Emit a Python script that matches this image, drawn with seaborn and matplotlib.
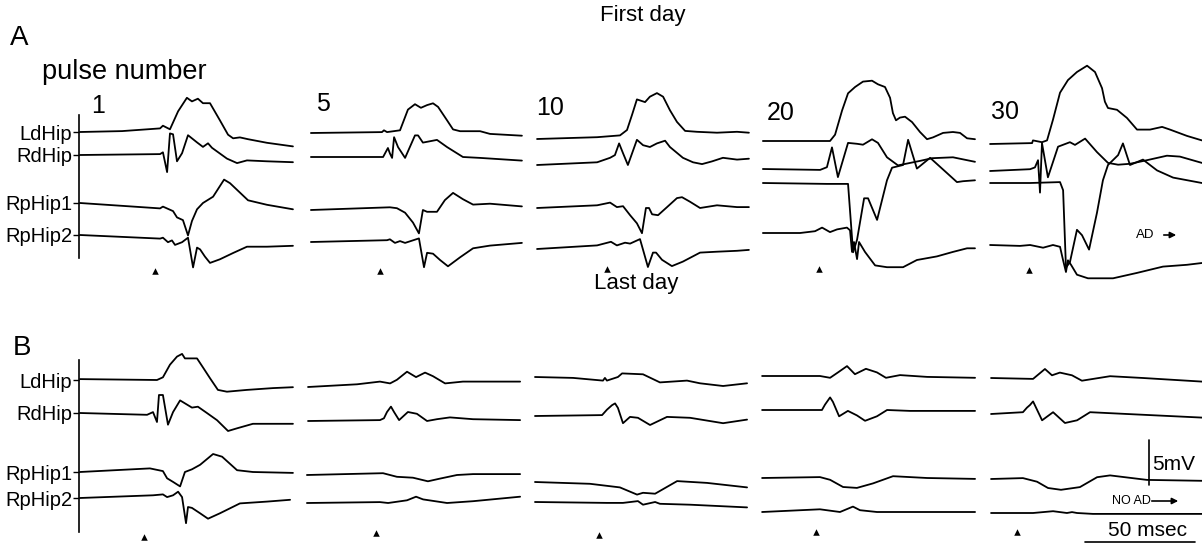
import pandas as pd
import seaborn as sns
import matplotlib
matplotlib.use('Agg')
from matplotlib import pyplot as plt

CHANNELS = ['LdHip', 'RdHip', 'RpHip1', 'RpHip2']
PULSES = ['1', '5', '10', '20', '30']

# each trace: (ms after the stimulus, mV above the channel baseline), one trace per pulse
A_LdHip = [
    [(-34.1, 0), (-15, 0.1), (2.3, 0.4), (3.6, 0.7), (6.8, 0.3), (10.5, 2.3), (14.5, 3.8), (16.8, 3.4), (19.5, 3.7),
     (21.8, 3.2), (25, 3.2), (29.5, 1.3), (33.2, -0.3), (35.5, -0.7), (38.6, -0.6), (42.3, -0.8), (50.9, -1.2),
     (62.7, -1.6)],
    [(-31.4, 0), (0.9, 0.1), (1.8, 0.3), (3.2, 0.1), (9.1, 0.3), (12.7, 2.6), (15.9, 3.2), (18.6, 2.8), (21.4, 3.1),
     (24.1, 3.3), (26.4, 2.9), (30.5, 1.4), (33.2, 0.4), (36.4, 0.2), (45.5, 0.2), (50, -0.1), (64.5, -0.3)],
    [(-31.8, 0), (-4.5, 0.2), (5.9, 0.4), (9.1, 1), (11.4, 2.7), (13.6, 4.4), (17.3, 4.1), (19.5, 4.7), (22.7, 5.1),
     (25.5, 4.7), (28.6, 3.2), (31.8, 1.9), (35.5, 0.9), (40.9, 0.8), (50, 0.7), (59.1, 0.8), (64.5, 0.7)],
    [(-25.5, 0), (5, 0), (7.3, 0.7), (10.5, 3.4), (13.2, 5.3), (16.4, 6), (20, 6.6), (24.1, 6.7), (26.8, 6.3),
     (30, 6), (32.3, 4.8), (33.6, 3.1), (35, 2.3), (36.8, 2.6), (39.1, 2.7), (42.3, 2.1), (45.9, 1), (49.1, 0.2),
     (51.8, 0.4), (56.4, 0.9), (60.9, 1), (64.1, 0.9), (67.3, 0.3), (70.9, 0.2)],
    [(-17.7, 0), (1.4, 0.1), (1.8, 0.4), (5.9, 0.2), (8.2, 0.4), (10.9, 2.7), (14.1, 5.7), (17.7, 7.1), (21.8, 8),
     (26.4, 8.7), (30, 8), (33.2, 6.2), (34.5, 4.7), (35.9, 4), (40, 3.8), (44.5, 2.9), (49.1, 1.6), (55, 1.6),
     (60.5, 1.9), (64.1, 1.6), (71.8, 0.9), (78.6, 0.4)],
]
A_RdHip = [
    [(-34.1, 0), (2.3, 0.1), (3.6, 0.3), (5.5, -1.9), (6.8, 2.4), (8.2, 2.3), (10, -0.7), (12.3, 0.2), (15, 2.2),
     (19.1, 1.4), (21.8, 0.9), (24.1, 1.3), (25.9, 0.8), (32.7, -0.4), (37.3, -0.9), (41.8, -0.6), (50.9, -0.7),
     (62.7, -0.8)],
    [(-31.4, 0), (1.4, 0), (3.6, 1), (4.5, 0.4), (5.5, -0.1), (6.4, 2.2), (8.2, 1.1), (11.4, -0.1), (15.9, 2.4),
     (17.3, 2.4), (19.5, 1.6), (25.9, 1.9), (30.5, 1.1), (37.7, 0), (45.5, -0.1), (64.5, -0.4)],
    [(-31.8, 0), (-4.5, 0.3), (1.4, 0.8), (3.6, 1.1), (5.5, 2.4), (7.3, 1.3), (9.5, 0), (13.6, 2.8), (16.4, 2.2),
     (19.5, 2), (22.7, 2.4), (26.4, 2.7), (28.6, 2), (34.5, 0.8), (39.1, 0.3), (43.2, 0.1), (47.7, 0.4), (52.7, 0.8),
     (59.1, 0.6), (64.5, 0.7)],
    [(-25.5, 0), (0.5, -0.1), (3.6, 0.2), (5.9, 2.4), (8.6, -0.9), (13.2, 2.9), (17.3, 2.8), (20, 2.7), (24.1, 3.3),
     (26.8, 2.9), (30.9, 1.3), (35.9, 0.4), (45.9, 0.9), (51.4, 1.2), (60.9, 1.3), (70.9, 0.8)],
    [(-17.7, 0), (0.5, 0.2), (2.7, 0.4), (4.1, 1.2), (5, -2.4), (5.9, 3.1), (8.6, -0.7), (13.2, 2.7), (18.6, 3.2),
     (20.9, 2.9), (25.5, 3.6), (30.9, 2.1), (35.9, 0.9), (40.5, 0.7), (45.9, 0.8), (53.6, 1.2), (62.7, 1.7),
     (68.6, 1.6), (78.6, 0.9)],
]
A_RpHip1 = [
    [(-34.1, 0), (2.3, -0.6), (3.6, -0.4), (8.2, -0.9), (10, -1.6), (12.7, -1.9), (15, -3.6), (16.8, -2),
     (19.1, -0.7), (21.8, 0), (26.4, 0.7), (31.4, 2.6), (34.1, 2.2), (42.3, 0.3), (50.9, -0.2), (62.7, -0.7)],
    [(-31.4, 0), (4.5, 0.3), (7.7, 0.2), (11.4, -0.3), (15, -1.4), (17.7, -2.6), (19.5, 0), (21.4, -0.2),
     (25.9, -0.2), (29.5, 1.1), (33.2, 1.9), (37.7, 1.2), (42.3, 0.6), (50, 0.7), (64.5, 0.4)],
    [(-31.8, 0), (-4.5, 0.3), (1.4, 0.6), (4.5, 0.1), (7.3, 0.2), (10.5, -0.8), (13.6, -1.7), (15.9, -2.8),
     (17.7, 0), (19.1, 0), (20.5, -0.7), (23.2, -0.8), (27.3, 0.1), (31.8, 1.1), (34.1, 1.2), (37.7, 0.7),
     (42.3, 0), (50, 0.3), (59.1, 0.1), (64.5, 0.1)],
    [(-25.5, 0), (3.6, -0.1), (13.2, -0.1), (15.5, -7.7), (17.3, -6.3), (20.5, -1.7), (22.3, -1.7), (26.4, -4.1),
     (30.9, 0.3), (33.2, 1.7), (38.2, 2), (40.5, 4.8), (44.5, 1.6), (50.5, 2.8), (58.2, 1.1), (62.7, 0.1),
     (65.5, 0.2), (70.9, 0.3)],
    [(-17.7, 0), (0.5, 0), (14.1, 0.1), (15.5, -0.8), (16.8, -9.4), (18.6, -8.8), (21.8, -5.2), (24.1, -5.8),
     (27.3, -7.4), (30.9, -3.3), (33.6, 0.3), (35.9, 2), (40.5, 3.1), (42.7, 4.4), (45.9, 2), (51.8, 2.6),
     (58.2, 1.4), (65.5, 0.6), (78.6, 0)],
]
A_RpHip2 = [
    [(-34.1, 0), (2.3, -0.4), (3.6, -0.3), (5.9, -0.8), (7.7, -0.6), (9.1, -1.1), (12.3, -0.8), (15, -0.3),
     (17.3, -3.6), (19.1, -1.4), (20.5, -1.6), (22.7, -2.4), (25, -3.1), (29.5, -2.7), (35.5, -2), (41.8, -1.3),
     (50.9, -1.3), (62.7, -1.2)],
    [(-31.4, 0), (3.2, 0.2), (4.5, 0.3), (6.8, -0.1), (9.1, 0.1), (11.4, -0.1), (17.7, 0.4), (20, -2.8),
     (21.4, -1.2), (24.1, -1.3), (27.3, -2), (30.9, -2.7), (36.4, -1.7), (42.3, -0.7), (50, -0.4), (64.5, -0.1)],
    [(-31.8, 0), (-4.5, 0.4), (1.8, 0.8), (4.5, 0.4), (8.2, 0.7), (10.5, 0.6), (15, 1.1), (16.4, -0.1),
     (18.6, -2), (20.9, -0.4), (22.3, -0.4), (25, -1.2), (29.5, -1.9), (34.5, -1.4), (42.3, -0.4), (50, -0.3),
     (59.1, -0.2), (64.5, -0.1)],
    [(-25.5, 0), (-8.6, 0), (-1.8, 0.2), (1.4, 0.6), (5, 0.1), (8.2, 0.4), (12.7, 0.6), (14.1, 0.3), (15, -2.1),
     (15.9, -1), (17.3, -2.9), (18.2, -1), (20.9, -2.1), (25.5, -3.6), (30.9, -3.8), (38.2, -3.8), (44.5, -3),
     (53.6, -2.6), (60.9, -2.1), (67.3, -1.7), (70.9, -1.7)],
    [(-17.7, 0), (-4.1, -0.1), (0.5, 0), (6.4, -0.3), (10.9, 0), (14.1, -0.2), (15.5, -1.7), (16.8, -3),
     (17.7, -1.7), (19.1, -2.2), (21.8, -3.3), (26.8, -3.7), (38.2, -3.7), (49.1, -3.1), (60.9, -2.4),
     (71.8, -2.2), (78.6, -2)],
]

B_LdHip = [
    [(-29.1, 0.1), (5.9, 0), (8.6, 0.3), (11.8, 1.7), (15, 2.6), (17.3, 2.9), (18.6, 2.4), (24.1, 2.4),
     (26.8, 1.4), (30, 0.2), (33.6, -1.1), (37.7, -1.3), (46.8, -1.1), (58.6, -0.9), (67.7, -0.8)],
    [(-30.9, 0), (-8.6, 0.3), (1.8, 0.6), (6.4, 0.4), (9.5, 0.8), (14.1, 1.7), (18.2, 1.1), (22.3, 1.6),
     (25.9, 1.2), (31.4, 0.4), (39.5, 0.6), (51.8, 0.6), (65.5, 0.6)],
    [(-29.1, 0), (-11.8, -0.1), (1.8, -0.4), (2.7, -0.1), (3.6, -0.4), (8.6, 0), (10.5, 0.4), (20, 0.3),
     (27.7, -0.6), (40, -0.4), (45.9, -0.7), (56.4, -1), (67.3, -0.7)],
    [(-24.5, 0), (1.8, 0), (6.4, -0.2), (10, 0.4), (14.1, 1.1), (17.7, 0.2), (22.7, 0.8), (27.7, 0.4),
     (31.8, -0.2), (38.2, 0.1), (50.5, -0.1), (72.3, -0.2)],
    [(-11.8, 0), (7.3, -0.1), (12.7, 1), (15.9, 0.3), (19.5, 0.6), (25, 0.3), (29.5, -0.3), (42.3, 0.2),
     (57.3, 0), (84.1, -0.4)],
]
B_RdHip = [
    [(-29.1, 0), (1.4, -0.2), (4.1, 0.1), (5.9, -1), (6.8, 2), (8.6, 2), (10.9, -1.3), (13.2, 0.1), (16.4, 1.4),
     (21.8, 0.6), (24.5, 0.7), (28.6, 0), (33.2, -0.8), (38.2, -2), (42.3, -1.7), (49.5, -1.2), (67.7, -1.2)],
    [(-30.9, 0), (1.8, 0.1), (3.6, 0.3), (5, 1), (6.8, 1.6), (8.2, 1), (10.5, 0.1), (14.5, 1), (18.6, 0.8),
     (23.2, 0), (27.7, 0.2), (33.6, 0.4), (44.1, 0.2), (65.5, 0.1)],
    [(-29.1, 0), (1.4, 0.1), (3.6, 0.7), (5.9, 1.2), (7.3, 1.4), (8.6, 0.9), (10.9, -0.8), (14.1, -0.1),
     (17.7, -0.2), (23.2, -1), (30.9, -0.1), (41.4, -0.2), (56.4, -0.8), (67.3, -0.4)],
    [(-24.5, 0), (2.7, 0), (4.1, 0.6), (6.4, 1.4), (7.7, 0.9), (10.5, -0.7), (14.5, -0.1), (18.6, -0.6),
     (22.3, -1.2), (27.7, -0.7), (32.3, 0), (42.7, -0.1), (72.3, -0.1)],
    [(-11.8, 0), (2.7, 0.2), (4.5, 0.7), (5.9, 1), (7.3, 1.4), (11.4, -0.7), (16.4, 0.2), (21.8, -1),
     (27.3, -0.7), (33.2, 0.2), (50, 0), (84.1, -0.4)],
]
B_RpHip1 = [
    [(-29.1, 0), (2.7, 0.4), (8.6, 0.1), (10.5, -0.7), (13.2, -1.1), (16.4, -1.6), (18.6, 0), (21.8, 0.3),
     (25.5, 0.8), (31.4, 2), (35.5, 1.7), (42.3, 0.2), (49.5, 0), (67.7, -0.1)],
    [(-31.4, 0), (3.2, 0.2), (9.5, -0.2), (16.8, -0.3), (23.6, -0.7), (29.1, -0.4), (36.8, 0), (44.1, 0.1),
     (65.5, 0.1)],
    [(-29.1, 0), (-4.1, -0.2), (9.5, -0.6), (17.3, -1.4), (20, -1.2), (25.5, -1.3), (35.5, 0.1), (49.1, -0.1),
     (67.3, -0.6)],
    [(-24.5, 0), (1.8, 0.1), (6.4, -0.2), (12.3, -1), (18.6, -1.1), (25.9, -0.6), (35, 0.2), (50.5, 0),
     (72.3, -0.1)],
    [(-11.8, 0), (2.7, 0.1), (9.1, -0.3), (14.1, -1), (20, -1.2), (28.6, -0.9), (36.4, 0.2), (42.3, 0.4),
     (59.1, -0.1), (84.1, -0.2)],
]
B_RpHip2 = [
    [(-29.1, 0), (4.1, 0.3), (8.6, 0.4), (10.5, 0.1), (13.2, 0.3), (15.5, 0.7), (17.3, 0.1), (19.1, -2.8),
     (20, -1), (21.8, -1.1), (25.5, -1.7), (29.1, -2.3), (34.5, -1.7), (43.6, -0.6), (55.9, -0.4), (66.4, -0.2)],
    [(-31.4, 0), (1.8, 0.1), (5.5, 0), (14.1, 0.3), (18.2, 0.7), (21.4, 0.4), (32.3, 0), (44.1, 0.2),
     (65.5, 0.7)],
    [(-29.1, 0), (3.6, -0.1), (10.9, -0.1), (17.7, 0.1), (20, -0.3), (25.5, 0), (27.7, -0.2), (41.4, -0.3),
     (67.3, -0.6)],
    [(-24.5, 0), (1.8, 0.3), (10.9, 0), (16.8, 0.6), (20, 0.2), (27.7, 0), (72.3, 0)],
    [(-11.8, 0), (7.3, 0), (16.4, 0.2), (22.7, 0), (25, 0.1), (27.3, 0), (34.5, -0.1), (84.1, -0.1)],
]

SCALE_MV = 5
SCALE_MS = 50

# ---- layout (pixels of the 1202 x 546 figure) ----
W, H = 1202, 546
PX_PER_MS, PX_PER_MV = 2.2, 9.0
ROW_BAND = [(50, 285), (330, 546)]
SPINE_SPAN = [(115, 258), (360, 532)]
PANEL_LEFT = [[79, 311, 537, 763, 990], [79, 307, 535, 762, 991]]
PANEL_RIGHT = [[294, 522, 749, 975, 1202], [293, 520, 747, 975, 1202]]
STIM_X = [[155, 380, 607, 819, 1029], [144, 376, 599, 816, 1017]]
STIM_Y = [[271, 271, 269, 269, 270], [537, 533, 535, 532, 532]]
BASE_Y = [
    [[132, 155, 203, 235], [133, 157, 210, 242], [139, 165, 208, 249], [141, 169, 183, 233], [144, 171, 183, 245]],
    [[380, 413, 472, 498], [387, 421, 475, 503], [377, 416, 482, 502], [376, 410, 478, 512], [378, 414, 479, 513]],
]
NUM_POS = [(91, 106), (316, 104), (536, 108), (767, 113), (991, 112)]


def fx(px):
    return px / W


def fy(py):
    return 1 - py / H


sns.set_style('white')
plt.rcParams['font.family'] = ['Liberation Sans', 'DejaVu Sans']
plt.rcParams['text.color'] = 'black'
plt.rcParams['ytick.color'] = 'black'
plt.rcParams['ytick.labelcolor'] = 'black'

fig = plt.figure(figsize=(W / 100, H / 100), dpi=100)

days = [[A_LdHip, A_RdHip, A_RpHip1, A_RpHip2], [B_LdHip, B_RdHip, B_RpHip1, B_RpHip2]]

for r, day in enumerate(days):
    top, bottom = ROW_BAND[r]
    for c in range(5):
        left, right = PANEL_LEFT[r][c], PANEL_RIGHT[r][c]
        sx = STIM_X[r][c]
        ax = fig.add_axes([fx(left), fy(bottom), (right - left) / W, (bottom - top) / H])
        offs = [(bottom - b) / PX_PER_MV for b in BASE_Y[r][c]]

        rows = []
        for ch, series, off in zip(CHANNELS, day, offs):
            for t, v in series[c]:
                rows.append((ch, t, v + off))
        df = pd.DataFrame(rows, columns=['channel', 't', 'mV'])
        sns.lineplot(data=df, x='t', y='mV', units='channel', estimator=None, sort=False,
                     color='black', linewidth=1.3, ax=ax, legend=False)
        for line in ax.lines:
            line.set_clip_on(False)
            line.set_solid_joinstyle('round')

        # stimulus marker
        ax.scatter([0], [(bottom - STIM_Y[r][c]) / PX_PER_MV], marker='^', s=22,
                   color='black', linewidths=0, clip_on=False)

        ax.set_xlim((left - sx) / PX_PER_MS, (right - sx) / PX_PER_MS)
        ax.set_ylim(0, (bottom - top) / PX_PER_MV)
        ax.set(xlabel=None, ylabel=None)
        ax.patch.set_alpha(0)

        if c == 0:
            sns.despine(ax=ax, left=False, bottom=True)
            ax.set_xticks([])
            s0, s1 = SPINE_SPAN[r]
            ax.spines['left'].set_bounds((bottom - s1) / PX_PER_MV, (bottom - s0) / PX_PER_MV)
            ax.spines['left'].set_linewidth(1.2)
            ax.spines['left'].set_color('black')
            ax.set_yticks(offs)
            ax.set_yticklabels(CHANNELS)
            ax.tick_params(axis='y', length=4, width=1, pad=1, labelsize=14.5, direction='out',
                           left=True, color='black', labelcolor='black')
        else:
            ax.axis('off')

        if r == 1 and c == 4:
            # scale bars
            vb = (bottom - 485) / PX_PER_MV
            ax.plot([60, 60], [vb, vb + SCALE_MV], color='black', lw=1.2, clip_on=False)
            hb = (bottom - 542) / PX_PER_MV
            ax.plot([30.9, 30.9 + SCALE_MS], [hb, hb], color='black', lw=1.2, clip_on=False)

# titles and labels
fig.text(fx(10), fy(38), 'A', fontsize=20, ha='left', va='center')
fig.text(fx(643), fy(16), 'First day', fontsize=16, ha='center', va='center')
fig.text(fx(42), fy(72), 'pulse number', fontsize=19.5, ha='left', va='center')
for (px, py), lab in zip(NUM_POS, PULSES):
    fig.text(fx(px), fy(py), lab, fontsize=18, ha='left', va='center')
fig.text(fx(13), fy(348), 'B', fontsize=20, ha='left', va='center')
fig.text(fx(636), fy(284), 'Last day', fontsize=16, ha='center', va='center')

fig.text(fx(1136), fy(235), 'AD', fontsize=9.5, ha='left', va='center')
fig.add_artist(matplotlib.patches.FancyArrowPatch((fx(1161), fy(235)), (fx(1179), fy(235)),
                                                  transform=fig.transFigure, arrowstyle='-|>',
                                                  mutation_scale=9, color='black', lw=1.2))
fig.text(fx(1112), fy(501), 'NO AD', fontsize=9, ha='left', va='center')
fig.add_artist(matplotlib.patches.FancyArrowPatch((fx(1149), fy(501)), (fx(1181), fy(501)),
                                                  transform=fig.transFigure, arrowstyle='-|>',
                                                  mutation_scale=9, color='black', lw=1.2))
fig.text(fx(1152), fy(464), '5mV', fontsize=15, ha='left', va='center')
fig.text(fx(1147), fy(530), '50 msec', fontsize=15, ha='center', va='center')

fig.savefig('out.png', dpi=100, facecolor='white')
